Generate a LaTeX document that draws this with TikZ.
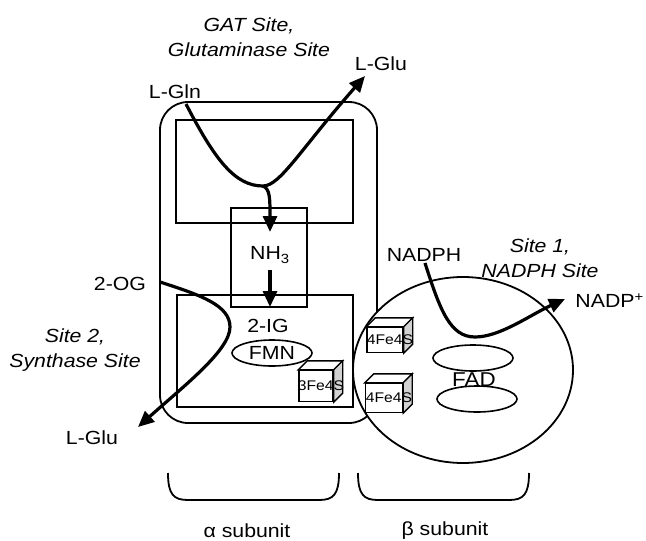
\documentclass[tikz,border=0pt]{standalone}
\usepackage{fontspec}
\setmainfont[FakeStretch=1.12]{Liberation Sans}
\usepackage{tikz}
\usetikzlibrary{arrows.meta,shapes.geometric}

\tikzset{
  lbl/.style={inner sep=1pt,font=\fontsize{19}{22}\selectfont},
  site/.style={inner sep=1pt,align=center,font=\fontsize{19}{25.5}\selectfont\itshape},
  box/.style={draw,line width=1.8pt},
  strand/.style={line width=3.2pt},
  flow/.style={strand,-{Triangle[length=16pt,width=14pt]}},
  cofactor/.style={draw,ellipse,line width=1.6pt,inner sep=0pt,
    minimum width=80pt,minimum height=26pt,font=\fontsize{19}{22}\selectfont},
  face/.style={draw,line width=1.4pt,fill=white,inner sep=0pt},
  cluster/.style={inner sep=0pt,font=\fontsize{14}{16}\selectfont}
}

\begin{document}
\begin{tikzpicture}[x=1pt,y=-1pt]
		\useasboundingbox (0,0) rectangle (646,541);
		
		%--- alpha subunit: outer body + the two domains + ammonia tunnel ---
		\draw[box,rounded corners=28] (160,102) rectangle (377,423);
		\draw[box] (176,120) rectangle (353,223);   % GAT domain
		\draw[box] (177,295) rectangle (353,407);   % synthase domain
		\draw[box] (231,208) rectangle (307,307);   % NH3 channel
		
		%--- beta subunit (drawn on top, hides the alpha edge) ---
		\draw[box,fill=white] (463,370) ellipse [x radius=110,y radius=93];
		
		% flavins
		\node[cofactor] (fmn) at (272,353) {FMN};
		\node[cofactor] (fadtop) at (473,358) {};
		\node[cofactor] (fadbot) at (477,399) {};
		\node[lbl,font=\fontsize{20}{22}\selectfont] (fad) at (474,380) {FAD};
		
		% iron-sulfur clusters as little cubes
		\foreach \n/\x/\y/\w/\h/\t in {c3/316/386/34/31/3Fe4S,
			c4a/385/340/36/25/4Fe4S, c4b/384/398/37/29/4Fe4S}{
			\node[face,minimum width=\w pt,minimum height=\h pt] (\n) at (\x,\y) {};
			\draw[face] (\n.north west) -- ++(9,-9) -- ([shift={(9,-9)}]\n.north east)
				-- (\n.north east) -- cycle;
			\draw[face,fill=gray!35] (\n.north east) -- ++(9,-9)
				-- ([shift={(9,-9)}]\n.south east) -- (\n.south east) -- cycle;
			\node[cluster] at ([xshift=5]\n.center) {\t};
		}
		
		%--- labels ---
		\node[site] (gatsite) at (249,37) {GAT Site,\\Glutaminase Site};
		\node[lbl] (gln) at (175,92) {L-Gln};
		\node[lbl] (gluA) at (381,64) {L-Glu};
		\node[lbl] (nh3) at (270,255) {NH\textsubscript{3}};
		\node[lbl] (ig) at (268,326) {2-IG};
		\node[lbl] (og) at (120,284) {2-OG};
		\node[site] (synsite) at (75,350) {Site 2,\\Synthase Site};
		\node[lbl] (gluB) at (92,438) {L-Glu};
		\node[lbl] (nadph) at (424,255) {NADPH};
		\node[site] (nadsite) at (540,258) {Site 1,\\NADPH Site};
		\node[lbl,inner sep=0pt,anchor=east] (nadp) at (644,301) {NADP\textsuperscript{+}};
		
		% end points of the thick paths
		\coordinate (glnIn) at (186,104);
		\coordinate (gat) at (263,186);
		\coordinate (gluOut) at (365,76);
		\coordinate (nhIn) at (270,232);
		\coordinate (nhTop) at (270,270);
		\coordinate (nhOut) at (270,307);
		\coordinate (ogIn) at (160,282);
		\coordinate (ogTurn) at (230,327);
		\coordinate (gluEnd) at (138,427);
		\coordinate (nadIn) at (425,263);
		\coordinate (nadTurn) at (475,337);
		\coordinate (nadOut) at (565,299);
		
		%--- glutaminase site: L-Gln -> L-Glu, NH3 branches off ---
		\draw[strand] (glnIn) .. controls (215,160) and (235,186) .. (gat);
		\draw[flow] (gat) .. controls (280,186) and (300,150) .. (gluOut);
		\draw[flow] (gat) .. controls (270,189) and (270,198) .. (nhIn);
		\draw[flow] (nhTop) -- (nhOut);
		
		%--- synthase site: 2-OG -> L-Glu ---
		\draw[flow] (ogIn) .. controls (200,295) and (230,305) .. (ogTurn)
			.. controls (230,350) and (185,385) .. (gluEnd);
		
		%--- NADPH site ---
		\draw[flow] (nadIn) .. controls (440,310) and (450,337) .. (nadTurn)
			.. controls (500,337) and (530,315) .. (nadOut);
		
		%--- subunit braces ---
		\foreach \a/\b in {168/339, 358/529}{
			\draw[box] (\a,473) .. controls (\a,495) and (\a+6,500) .. (\a+20,500)
				-- (\b-20,500) .. controls (\b-6,500) and (\b,495) .. (\b,473);
		}
		\node[lbl] (alphasub) at (247,531) {α subunit};
		\node[lbl] (betasub) at (445,531) {β subunit};
		
	\end{tikzpicture}
\end{document}
